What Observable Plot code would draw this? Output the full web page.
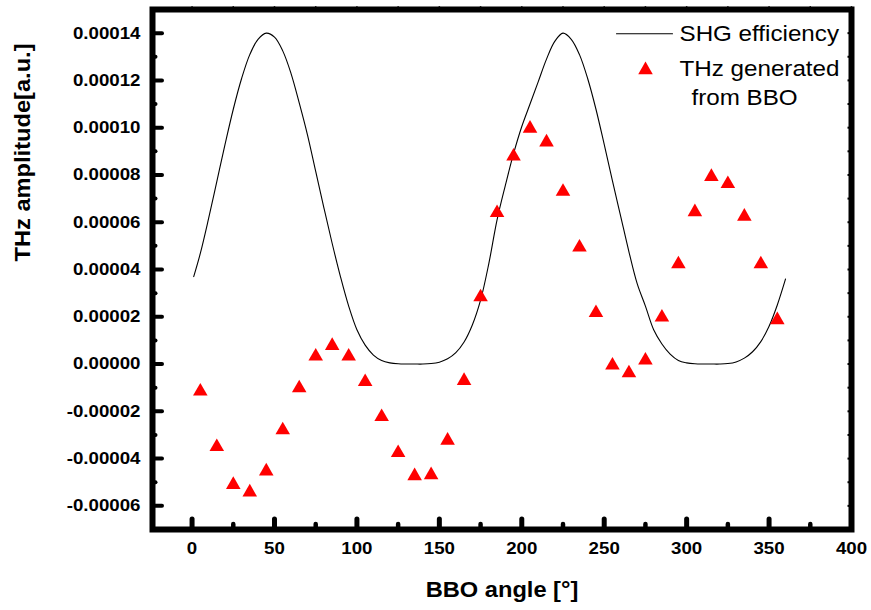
<!DOCTYPE html>
<html>
<head>
<meta charset="utf-8">
<script src="https://cdn.jsdelivr.net/npm/d3@7"></script>
<script src="https://cdn.jsdelivr.net/npm/@observablehq/plot@0.6"></script>
<style>
html, body { margin: 0; padding: 0; background: #fff; }
#chart { width: 871px; height: 610px; }
</style>
</head>
<body>
<div id="chart"></div>
<script>
// SHG efficiency curve
const shgAngles = [1,5,10,15,20,25,30,35,40,45,50,55,60,65,70,75,80,85,90,95,100,105,110,115,120,125,130,135,140,145,150,155,160,165,170,175,180,185,190,195,200,205,210,215,220,225,230,235,240,245,250,255,260,265,270,275,280,285,290,295,300,305,310,315,320,325,330,335,340,345,350,355,360];
const shgValues = [
  0.0000370,0.0000468,0.0000615,0.0000772,0.0000929,0.0001078,0.0001207,0.0001309,0.0001374,0.0001400,
  0.0001383,0.0001325,0.0001230,0.0001105,0.0000970,0.0000815,0.0000660,0.0000510,0.0000370,0.0000245,
  0.0000145,0.0000080,0.0000038,0.0000015,0.0000005,0.0000001,0.0000000,0.0000000,0.0000000,0.0000002,
  0.0000008,0.0000022,0.0000048,0.0000093,0.0000165,0.0000270,0.0000425,0.0000610,0.0000755,0.0000890,
  0.0001005,0.0001100,0.0001195,0.0001290,0.0001365,0.0001400,0.0001374,0.0001309,0.0001207,0.0001078,
  0.0000929,0.0000775,0.0000625,0.0000475,0.0000340,0.0000245,0.0000145,0.0000085,0.0000042,0.0000015,
  0.0000005,0.0000001,0.0000000,0.0000000,0.0000000,0.0000002,0.0000009,0.0000025,0.0000052,0.0000095,
  0.0000160,0.0000250,0.0000360
];
// THz generated from BBO (triangles)
const thzAngles = [5,15,25,35,45,55,65,75,85,95,105,115,125,135,145,155,165,175,185,195,205,215,225,235,245,255,265,275,285,295,305,315,325,335,345,355];
const thzValues = [
  -0.0000107,-0.0000342,-0.0000502,-0.0000534,-0.0000445,-0.0000271,-0.0000093,0.0000041,0.0000086,0.0000041,
  -0.0000067,-0.0000215,-0.0000367,-0.0000465,-0.0000461,-0.0000315,-0.0000062,0.0000292,0.0000648,0.0000887,
  0.0001005,0.0000947,0.0000738,0.0000502,0.0000225,0.0000003,-0.0000030,0.0000024,0.0000206,0.0000431,
  0.0000652,0.0000801,0.0000771,0.0000633,0.0000431,0.0000195
];
const xMajorTicks = [0,50,100,150,200,250,300,350,400];
const xMinorTicks = [25,75,125,175,225,275,325,375];
const yMajorTicks = [-0.00006,-0.00004,-0.00002,0,0.00002,0.00004,0.00006,0.00008,0.00010,0.00012,0.00014];
const yMinorTicks = [-0.00005,-0.00003,-0.00001,0.00001,0.00003,0.00005,0.00007,0.00009,0.00011,0.00013];
const xTitle = "BBO angle [°]";
const yTitle = "THz amplitude[a.u.]";
const legendLine = "SHG efficiency";
const legendTri1 = "THz generated";
const legendTri2 = "from BBO";

const shg = shgAngles.map((a, i) => ({angle: a, value: shgValues[i]}));
const thz = thzAngles.map((a, i) => ({angle: a, value: thzValues[i]}));
const xTopTicks = [...xMajorTicks, ...xMinorTicks].sort((a, b) => a - b);
const yAllTicks = [...yMajorTicks, ...yMinorTicks].sort((a, b) => a - b);

const lineShape = {draw(context, l) { context.moveTo(0, 0); context.lineTo(0, -l); }};
const noText = () => "";

const chart = Plot.plot({
  width: 871,
  height: 610,
  marginLeft: 152,
  marginRight: 20,
  marginTop: 9,
  marginBottom: 81,
  style: {fontFamily: "Arial, 'Liberation Sans', Helvetica, sans-serif", background: "white", color: "black", overflow: "visible"},
  x: {domain: [-24, 400]},
  y: {domain: [-0.00007, 0.00015]},
  marks: [
    Plot.line(shg, {x: "angle", y: "value", stroke: "black", strokeWidth: 1.1, curve: "catmull-rom"}),
    Plot.dot(thz, {x: "angle", y: "value", symbol: "triangle", r: 5.4, fill: "#ff0000", dy: 2}),
    Plot.axisX(xMinorTicks, {anchor: "bottom", tickSize: -5, strokeWidth: 4.5, strokeLinecap: "round", tickFormat: noText, label: null}),
    Plot.axisX(xMajorTicks, {anchor: "bottom", tickSize: -10, tickPadding: 22, strokeWidth: 5, strokeLinecap: "round", fontSize: 17, fontWeight: "bold", tickFormat: d => String(d), label: null}),
    Plot.axisX(xTopTicks, {anchor: "top", tickSize: 3.8, strokeWidth: 1.5, tickFormat: noText, label: null}),
    Plot.axisY(yMinorTicks, {anchor: "left", tickSize: -3.5, strokeWidth: 4, strokeLinecap: "round", tickFormat: noText, label: null}),
    Plot.axisY(yMajorTicks, {anchor: "left", tickSize: -10, tickPadding: 22, strokeWidth: 4, strokeLinecap: "round", fontSize: 17, fontWeight: "bold", tickFormat: d => d.toFixed(5), label: null}),
    Plot.axisY(yAllTicks, {anchor: "right", tickSize: -4.5, strokeWidth: 2, tickFormat: noText, label: null}),
    Plot.frame({stroke: "black", strokeWidth: 6}),
    Plot.text([xTitle], {text: d => d, frameAnchor: "bottom", dy: 61, fontSize: 21.5, fontWeight: "bold", lineAnchor: "middle"}),
    Plot.text([yTitle], {text: d => d, frameAnchor: "left", dx: -129, dy: -8, rotate: -90, fontSize: 21.5, fontWeight: "bold", lineAnchor: "middle"}),
    // legend
    Plot.vector([0], {frameAnchor: "top-left", dx: 464, dy: 24.3, length: 56, rotate: 90, anchor: "start", shape: lineShape, stroke: "black", strokeWidth: 1.1}),
    Plot.dot([0], {frameAnchor: "top-left", dx: 493, dy: 60.5, symbol: "triangle", r: 5.4, fill: "#ff0000"}),
    Plot.text([legendLine], {text: d => d, frameAnchor: "top-left", dx: 527, dy: 24.3, textAnchor: "start", lineAnchor: "middle", fontSize: 22}),
    Plot.text([legendTri1], {text: d => d, frameAnchor: "top-left", dx: 527, dy: 59, textAnchor: "start", lineAnchor: "middle", fontSize: 22}),
    Plot.text([legendTri2], {text: d => d, frameAnchor: "top-left", dx: 539, dy: 88, textAnchor: "start", lineAnchor: "middle", fontSize: 22})
  ]
});

// the reference's lettering is slightly wider than Arial: stretch text horizontally about its anchor
chart.querySelectorAll("text").forEach(t => {
  const tr = t.getAttribute("transform");
  if (tr) t.setAttribute("transform", tr + " scale(1.1,1)");
});

document.getElementById("chart").appendChild(chart);
</script>
</body>
</html>
